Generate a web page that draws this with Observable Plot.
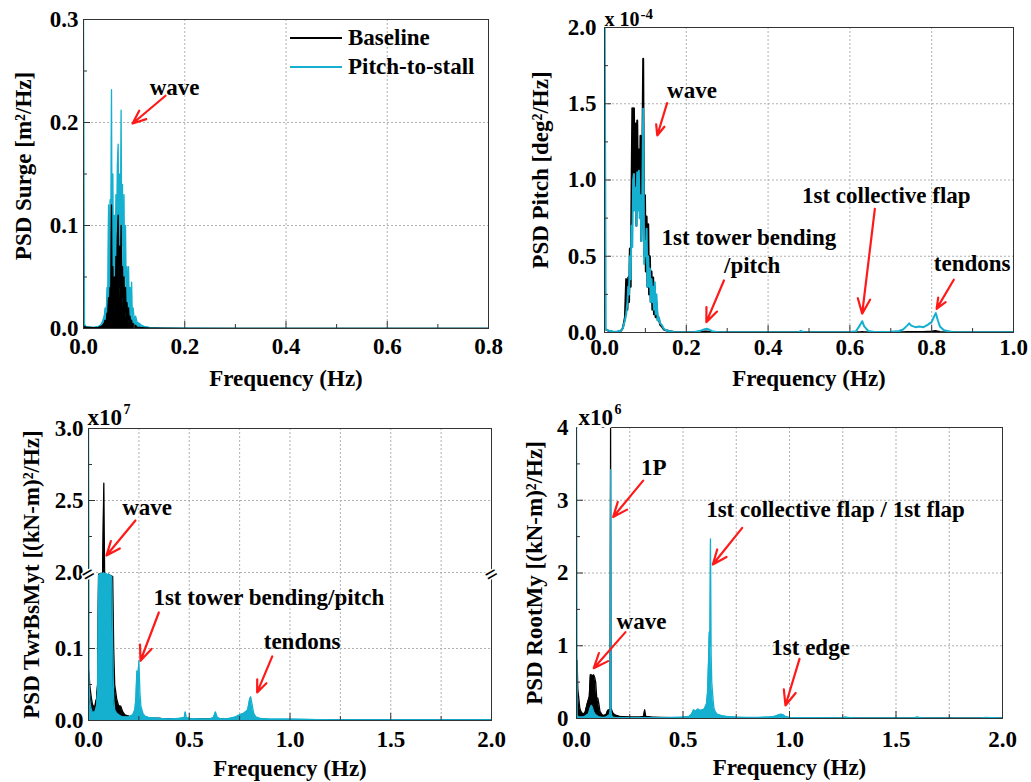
<!DOCTYPE html>
<html><head><meta charset="utf-8">
<script src="https://cdn.jsdelivr.net/npm/d3@7"></script>
<script src="https://cdn.jsdelivr.net/npm/@observablehq/plot@0.6"></script>
<style>
body{margin:0;background:#fff;}
#root{position:relative;width:1031px;height:782px;overflow:hidden;font-family:'Liberation Serif','Times New Roman',Times,serif;font-weight:bold;}
.panel{position:absolute;}
.panel svg{overflow:visible;}
.leg{position:absolute;font-size:23px;line-height:23px;white-space:nowrap;}
.legline{position:absolute;height:0;width:52px;}
</style></head>
<body><div id="root"></div>
<script>
const CYAN = "#15B0D0";
const FONT = "'Liberation Serif','Times New Roman',Times,serif";

// ---------------- Panel 1: Surge ----------------
const surgeFreq = [0,0.002,0.005,0.01,0.02,0.03,0.035,0.038,0.041,0.043,
  0.045,0.0465,0.048,0.0495,0.051,0.0525,0.054,0.0553,0.0565,0.058,
  0.0595,0.061,0.0625,0.064,0.0655,0.067,0.0685,0.07,0.0715,0.073,
  0.0743,0.0755,0.077,0.0785,0.08,0.0815,0.083,0.0845,0.086,0.0875,
  0.089,0.0905,0.092,0.0935,0.095,0.0965,0.098,0.1,0.103,0.106,
  0.11,0.115,0.12,0.13,0.15,0.2,0.3,0.4,0.5,0.6,
  0.7,0.8];
const surgeBaseline = [0.002,0.002,0.001,0.001,0.0008,0.001,0.002,0.003,0.005,0.008,
  0.006,0.015,0.01,0.03,0.012,0.04,0.02,0.12,0.03,0.06,
  0.02,0.05,0.015,0.07,0.03,0.09,0.11,0.04,0.08,0.03,
  0.1,0.03,0.06,0.02,0.05,0.015,0.04,0.01,0.025,0.008,
  0.02,0.005,0.012,0.004,0.008,0.003,0.005,0.002,0.003,0.001,
  0.001,0.0008,0.0005,0.0003,0.0002,0.0001,0.0001,0.0001,0.0001,0.0001,
  0.0001,0.0001];
const surgePitchToStall = [0.3,0.004,0.002,0.0015,0.001,0.002,0.004,0.007,0.012,0.02,
  0.015,0.04,0.025,0.12,0.05,0.125,0.06,0.232,0.07,0.15,
  0.05,0.11,0.04,0.13,0.06,0.16,0.179,0.07,0.15,0.09,
  0.212,0.08,0.14,0.06,0.13,0.05,0.1,0.03,0.06,0.025,
  0.06,0.02,0.04,0.015,0.045,0.012,0.02,0.01,0.012,0.006,
  0.005,0.003,0.002,0.001,0.0005,0.0003,0.0002,0.0002,0.0002,0.0002,
  0.0002,0.0002];

// ---------------- Panel 2: Pitch (x1e-4) ----------------
const pitchFreq = [0,0.003,0.01,0.02,0.03,0.04,0.045,0.05,0.053,0.056,
  0.058,0.06,0.062,0.064,0.066,0.068,0.07,0.072,0.074,0.076,
  0.078,0.08,0.082,0.084,0.086,0.088,0.09,0.092,0.0946,0.097,
  0.099,0.101,0.103,0.105,0.107,0.109,0.111,0.113,0.115,0.117,
  0.119,0.121,0.123,0.125,0.127,0.13,0.133,0.136,0.14,0.145,
  0.15,0.16,0.17,0.19,0.22,0.235,0.245,0.25,0.255,0.265,
  0.28,0.35,0.45,0.475,0.48,0.485,0.55,0.6,0.615,0.625,
  0.63,0.635,0.645,0.66,0.7,0.72,0.73,0.74,0.745,0.75,
  0.76,0.77,0.78,0.79,0.8,0.805,0.81,0.815,0.82,0.83,
  0.85,0.9,1.0];
const pitchBaseline = [0.03,0.02,0.01,0.005,0.004,0.01,0.03,0.1,0.35,0.15,
  0.36,0.2,0.55,0.3,0.9,1.47,0.8,1.47,0.9,1.37,
  0.7,1.39,0.9,1.2,0.8,1.29,0.6,1.0,1.795,0.5,
  0.9,0.4,0.76,0.3,0.71,0.25,0.5,0.2,0.4,0.15,
  0.36,0.12,0.3,0.1,0.2,0.08,0.09,0.05,0.04,0.02,
  0.015,0.008,0.004,0.002,0.002,0.004,0.006,0.006,0.005,0.003,
  0.001,0.001,0.001,0.001,0.001,0.001,0.001,0.001,0.001,0.002,
  0.003,0.002,0.001,0.001,0.001,0.002,0.002,0.003,0.003,0.003,
  0.003,0.003,0.004,0.005,0.006,0.008,0.01,0.006,0.004,0.002,
  0.001,0.001,0.001];
const pitchPitchToStall = [2.5,0.02,0.012,0.006,0.005,0.012,0.03,0.08,0.12,0.2,
  0.3,0.25,0.5,0.35,0.7,0.56,1.0,1.04,0.8,0.95,
  0.7,1.05,0.8,1.06,0.75,0.9,0.6,0.8,1.467,0.45,
  0.6,0.5,0.68,0.3,0.5,0.3,0.42,0.2,0.35,0.2,
  0.3,0.15,0.33,0.12,0.25,0.08,0.1,0.06,0.05,0.025,
  0.015,0.008,0.004,0.002,0.004,0.012,0.022,0.025,0.02,0.006,
  0.002,0.001,0.002,0.003,0.01,0.003,0.002,0.003,0.008,0.05,
  0.074,0.04,0.01,0.004,0.005,0.01,0.02,0.045,0.06,0.045,
  0.035,0.04,0.035,0.05,0.07,0.1,0.127,0.08,0.04,0.015,
  0.004,0.002,0.001];

// ---------------- Panel 3: TwrBsMyt (x1e7) ----------------
const twrFreq = [0,0.003,0.006,0.01,0.015,0.02,0.025,0.03,0.035,0.04,
  0.045,0.05,0.055,0.06,0.065,0.07,0.076,0.08,0.085,0.09,
  0.095,0.1,0.105,0.11,0.115,0.12,0.125,0.13,0.14,0.15,
  0.16,0.17,0.18,0.2,0.22,0.23,0.235,0.24,0.245,0.25,
  0.255,0.26,0.27,0.28,0.3,0.35,0.4,0.45,0.475,0.48,
  0.485,0.5,0.55,0.6,0.62,0.63,0.64,0.66,0.7,0.73,
  0.75,0.77,0.78,0.79,0.8,0.805,0.81,0.82,0.83,0.85,
  0.9,1.0,1.2,1.5,1.8,2.0];
const twrBaseline = [0.07,0.065,0.05,0.04,0.03,0.022,0.02,0.015,0.025,0.03,
  0.05,1.0,1.5,1.2,0.9,1.4,2.62,1.2,0.02,1.0,
  0.8,1.2,0.9,0.6,0.3,0.2,0.1,0.05,0.03,0.02,
  0.02,0.012,0.008,0.006,0.005,0.006,0.007,0.008,0.008,0.008,
  0.007,0.006,0.005,0.004,0.003,0.003,0.002,0.002,0.002,0.003,
  0.002,0.002,0.002,0.002,0.002,0.003,0.002,0.002,0.002,0.002,
  0.003,0.003,0.003,0.004,0.005,0.005,0.004,0.003,0.002,0.002,
  0.001,0.001,0.001,0.001,0.001,0.001];
const twrPitchToStall = [3.2,0.05,0.03,0.02,0.015,0.01,0.012,0.01,0.015,0.02,
  0.04,0.5,1.2,1.5,1.3,1.6,1.8,1.5,1.2,1.4,
  1.0,1.2,0.8,0.5,0.3,0.1,0.03,0.015,0.01,0.008,
  0.006,0.005,0.005,0.005,0.008,0.015,0.03,0.069,0.06,0.083,
  0.04,0.02,0.01,0.006,0.004,0.003,0.002,0.003,0.004,0.012,
  0.004,0.003,0.002,0.002,0.004,0.012,0.004,0.002,0.003,0.005,
  0.008,0.01,0.012,0.015,0.03,0.033,0.025,0.01,0.005,0.003,
  0.002,0.002,0.001,0.001,0.001,0.001];

// ---------------- Panel 4: RootMy (x1e6) ----------------
const rootFreq = [0,0.003,0.006,0.01,0.015,0.02,0.03,0.04,0.05,0.055,
  0.06,0.065,0.07,0.075,0.08,0.085,0.09,0.095,0.1,0.105,
  0.11,0.12,0.13,0.14,0.145,0.15,0.155,0.158,0.16,0.162,
  0.165,0.17,0.18,0.2,0.25,0.3,0.315,0.32,0.325,0.35,
  0.4,0.45,0.5,0.53,0.54,0.55,0.56,0.57,0.58,0.59,
  0.6,0.61,0.615,0.62,0.623,0.626,0.629,0.632,0.635,0.64,
  0.645,0.65,0.66,0.68,0.7,0.75,0.8,0.85,0.9,0.93,
  0.95,0.96,0.97,0.98,1.0,1.05,1.1,1.2,1.25,1.26,
  1.3,1.4,1.5,1.58,1.6,1.62,1.7,1.8,1.9,1.92,
  2.0];
const rootBaseline = [0.8,0.8,0.4,0.3,0.15,0.1,0.06,0.08,0.2,0.25,
  0.3,0.6,0.6,0.58,0.6,0.57,0.5,0.28,0.28,0.2,
  0.1,0.05,0.04,0.06,0.1,0.12,0.1,0.15,4.0,0.15,
  0.12,0.08,0.05,0.03,0.02,0.02,0.03,0.12,0.03,0.02,
  0.015,0.01,0.01,0.01,0.01,0.01,0.01,0.01,0.01,0.01,
  0.01,0.01,0.01,0.01,0.01,0.01,0.01,0.01,0.01,0.01,
  0.01,0.01,0.01,0.01,0.01,0.01,0.01,0.01,0.01,0.01,
  0.01,0.01,0.01,0.01,0.01,0.005,0.005,0.005,0.005,0.005,
  0.005,0.005,0.005,0.005,0.005,0.005,0.005,0.005,0.005,0.005,
  0.005];
const rootPitchToStall = [4.2,0.05,0.03,0.02,0.02,0.02,0.02,0.03,0.05,0.06,
  0.1,0.15,0.18,0.15,0.1,0.07,0.05,0.04,0.03,0.02,
  0.02,0.015,0.015,0.02,0.03,0.04,0.05,0.1,3.42,0.1,
  0.04,0.02,0.015,0.01,0.01,0.01,0.01,0.01,0.01,0.01,
  0.01,0.015,0.02,0.03,0.06,0.12,0.1,0.13,0.11,0.12,
  0.13,0.2,0.35,0.8,1.19,1.0,2.47,0.9,0.5,0.3,
  0.15,0.1,0.06,0.04,0.03,0.02,0.015,0.015,0.02,0.03,
  0.05,0.06,0.05,0.03,0.015,0.01,0.01,0.008,0.008,0.02,
  0.008,0.006,0.006,0.008,0.02,0.008,0.005,0.005,0.005,0.015,
  0.005];

// ---------------- ticks ----------------
const p1XTicks = [0, 0.2, 0.4, 0.6, 0.8], p1XMinor = [0.1, 0.3, 0.5, 0.7], p1XGrid = [0.2, 0.4, 0.6];
const p1YTicks = [0, 0.1, 0.2, 0.3], p1YMinor = [0.05, 0.15, 0.25], p1YGrid = [0.1, 0.2];
const p2XTicks = [0, 0.2, 0.4, 0.6, 0.8, 1.0], p2XMinor = [0.1, 0.3, 0.5, 0.7, 0.9], p2XGrid = [0.2, 0.4, 0.6, 0.8];
const p2YTicks = [0, 0.5, 1.0, 1.5, 2.0], p2YMinor = [0.25, 0.75, 1.25, 1.75], p2YGrid = [0.5, 1.0, 1.5];
const p3XTicks = [0, 0.5, 1.0, 1.5, 2.0], p3XMinor = [0.25, 0.75, 1.25, 1.75], p3XGrid = [0.25, 0.5, 0.75, 1.0, 1.25, 1.5, 1.75];
const p3YTicks = [0, 0.1, 2.0, 2.5, 3.0], p3YMinor = [0.05, 0.15, 2.25, 2.75], p3YGrid = [0.1, 2.0, 2.5];
const p4XTicks = [0, 0.5, 1.0, 1.5, 2.0], p4XMinor = [0.25, 0.75, 1.25, 1.75], p4XGrid = [0.25, 0.5, 0.75, 1.0, 1.25, 1.5, 1.75];
const p4YTicks = [0, 1, 2, 3, 4], p4YMinor = [0.5, 1.5, 2.5, 3.5], p4YGrid = [1, 2, 3];

// ---------------- annotations ----------------
const p1Labels = [{label: "wave", f: 0.180, v: 0.234}];
const p1Arrows = [{f1: 0.162, v1: 0.226, f2: 0.097, v2: 0.199}];
const p2Labels = [
  {label: "wave", f: 0.214, v: 1.587},
  {label: "1st tower bending", f: 0.353, v: 0.625},
  {label: "/pitch", f: 0.361, v: 0.439},
  {label: "1st collective flap", f: 0.689, v: 0.898},
  {label: "tendons", f: 0.899, v: 0.45}];
const p2Arrows = [
  {f1: 0.153, v1: 1.504, f2: 0.129, v2: 1.292},
  {f1: 0.292, v1: 0.341, f2: 0.249, v2: 0.068},
  {f1: 0.661, v1: 0.811, f2: 0.630, v2: 0.123},
  {f1: 0.854, v1: 0.346, f2: 0.812, v2: 0.155}];
const p3Labels = [
  {label: "wave", f: 0.291, v: 2.449},
  {label: "1st tower bending/pitch", f: 0.895, v: 0.171},
  {label: "tendons", f: 1.06, v: 0.109}];
const p3Arrows = [
  {f1: 0.233, v1: 2.361, f2: 0.089, v2: 2.118},
  {f1: 0.349, v1: 0.150, f2: 0.258, v2: 0.083},
  {f1: 0.912, v1: 0.089, f2: 0.837, v2: 0.039}];
const p4Labels = [
  {label: "1P", f: 0.363, v: 3.454},
  {label: "1st collective flap / 1st flap", f: 1.216, v: 2.87},
  {label: "wave", f: 0.305, v: 1.333},
  {label: "1st edge", f: 1.099, v: 0.98}];
const p4Arrows = [
  {f1: 0.313, v1: 3.27, f2: 0.172, v2: 2.77},
  {f1: 0.778, v1: 2.62, f2: 0.640, v2: 2.117},
  {f1: 0.230, v1: 1.187, f2: 0.081, v2: 0.692},
  {f1: 1.047, v1: 0.82, f2: 0.981, v2: 0.179}];

const seriesNames = ["Baseline", "Pitch-to-stall"];
const breakAt = [0, 2];

// ---------------- helpers ----------------
function rows(freq, a, b) { return freq.map((f, i) => ({f, baseline: a[i], pts: b[i]})); }

function annotate(labels, arrows) {
  return [
    Plot.arrow(arrows, {x1: "f1", y1: "v1", x2: "f2", y2: "v2", stroke: "#ff1a1a", strokeWidth: 2.2, headLength: 11, headAngle: 45}),
    Plot.text(labels, {x: "f", y: "v", text: "label", fontSize: 23, fill: "black", lineAnchor: "middle"})
  ];
}

function panel(o) {
  const g = {stroke: "#a8a8a8", strokeOpacity: 1, strokeWidth: 0.9, strokeDasharray: "2,2"};
  const marks = [
    Plot.gridX(o.xGrid, g),
    Plot.gridY(o.yGrid, g),
    ...o.data,
    Plot.frame({stroke: "#333", strokeWidth: 1}),
    Plot.axisX(o.xMinor, {tickSize: -4, fill: "none", label: null, stroke: "#333"}),
    Plot.axisX(o.xTicks, {tickSize: -7, fill: "none", label: null, stroke: "#333"}),
    Plot.axisX(o.xTicks, {tickSize: 0, tickPadding: o.xPad, tickFormat: o.xFmt, label: null, fontSize: 23, fill: "black"}),
    Plot.axisY(o.yMinor, {tickSize: -4, fill: "none", label: null, stroke: "#333"}),
    Plot.axisY(o.yTicks, {tickSize: -7, fill: "none", label: null, stroke: "#333"}),
    Plot.axisY(o.yTicks, {tickSize: 0, tickPadding: o.yPad, tickFormat: o.yFmt, label: null, fontSize: 23, fill: "black"}),
    Plot.text([o.xTitle], {frameAnchor: "bottom", dy: o.xTitleDy, text: d => d, fontSize: 23, textAnchor: "middle", lineAnchor: "middle"}),
    Plot.text([o.yTitle], {frameAnchor: "left", dx: o.yTitleDx, dy: o.yTitleDy, rotate: -90, text: d => d, fontSize: 23, textAnchor: "middle", lineAnchor: "middle"}),
    ...(o.extra || [])
  ];
  const svg = Plot.plot({
    width: o.width, height: o.height,
    marginLeft: o.ml, marginRight: o.mr, marginTop: o.mt, marginBottom: o.mb,
    style: {fontFamily: FONT, fontWeight: "bold", fontSize: "23px", background: "transparent", overflow: "visible", color: "black"},
    x: {domain: o.xDomain},
    y: o.y,
    marks
  });
  const div = document.createElement("div");
  div.className = "panel";
  div.style.left = o.left + "px";
  div.style.top = o.top + "px";
  div.style.width = o.width + "px";
  div.style.height = o.height + "px";
  div.append(svg);
  document.getElementById("root").append(div);
}

function spectrum(data, key, color, filled, opts = {}) {
  const out = [];
  if (filled) out.push(Plot.areaY(data, {x: "f", y: key, fill: color, clip: true, ...opts}));
  out.push(Plot.line(data, {x: "f", y: key, stroke: color, strokeWidth: 1.3, clip: true, ...opts}));
  return out;
}

const fmt1 = d3.format(".1f");

// Panel 1
const d1 = rows(surgeFreq, surgeBaseline, surgePitchToStall);
panel({
  left: 0, top: 0, width: 515, height: 390, ml: 83, mr: 27, mt: 19, mb: 62,
  xDomain: [0, 0.8], y: {domain: [0, 0.3]},
  xTicks: p1XTicks, xMinor: p1XMinor, xGrid: p1XGrid,
  yTicks: p1YTicks, yMinor: p1YMinor, yGrid: p1YGrid,
  xFmt: fmt1, yFmt: fmt1, xPad: 9, yPad: 5,
  xTitle: "Frequency (Hz)", xTitleDy: 50,
  yTitle: "PSD Surge [m²/Hz]", yTitleDx: -60, yTitleDy: -8,
  data: [...spectrum(d1, "pts", CYAN, true), ...spectrum(d1, "baseline", "black", true)],
  extra: annotate(p1Labels, p1Arrows)
});

// Panel 2
const d2 = rows(pitchFreq, pitchBaseline, pitchPitchToStall);
panel({
  left: 515, top: 0, width: 516, height: 390, ml: 89, mr: 18, mt: 27, mb: 58,
  xDomain: [0, 1], y: {domain: [0, 2]},
  xTicks: p2XTicks, xMinor: p2XMinor, xGrid: p2XGrid,
  yTicks: p2YTicks, yMinor: p2YMinor, yGrid: p2YGrid,
  xFmt: fmt1, yFmt: fmt1, xPad: 6, yPad: 8,
  xTitle: "Frequency (Hz)", xTitleDy: 46,
  yTitle: "PSD Pitch [deg²/Hz]", yTitleDx: -64, yTitleDy: -10,
  data: [...spectrum(d2, "baseline", "black", false, {strokeWidth: 2}), ...spectrum(d2, "pts", CYAN, false, {strokeWidth: 2})],
  extra: [
    Plot.text(["x 10"], {frameAnchor: "top-left", text: d => d, textAnchor: "start", lineAnchor: "bottom", dx: 0, dy: -2, fontSize: 20}),
    Plot.text(["-4"], {frameAnchor: "top-left", text: d => d, textAnchor: "start", lineAnchor: "bottom", dx: 36, dy: -9, fontSize: 15}),
    ...annotate(p2Labels, p2Arrows)
  ]
});

// Panel 3 (broken axis: piecewise linear y scale)
const d3data = rows(twrFreq, twrBaseline, twrPitchToStall);
panel({
  left: 0, top: 390, width: 515, height: 392, ml: 88, mr: 24, mt: 38, mb: 62,
  xDomain: [0, 2], y: {type: "linear", domain: [0, 0.2, 2, 3], range: [330, 186, 182, 38]},
  xTicks: p3XTicks, xMinor: p3XMinor, xGrid: p3XGrid,
  yTicks: p3YTicks, yMinor: p3YMinor, yGrid: p3YGrid,
  xFmt: fmt1, yFmt: fmt1, xPad: 10, yPad: 5,
  xTitle: "Frequency (Hz)", xTitleDy: 48,
  yTitle: "PSD TwrBsMyt [(kN-m)²/Hz]", yTitleDx: -57, yTitleDy: 0,
  data: [...spectrum(d3data, "baseline", "black", true), ...spectrum(d3data, "pts", CYAN, true)],
  extra: [
    Plot.text(breakAt, {x: d => d, y: 1.1, text: () => "=", fontSize: 22, rotate: -30, stroke: "white", strokeWidth: 3, fill: "black", lineAnchor: "middle"}),
    Plot.text(["x10"], {frameAnchor: "top-left", text: d => d, textAnchor: "start", lineAnchor: "bottom", dx: -1, dy: -4, fontSize: 23, stroke: "white", strokeWidth: 6, fill: "black"}),
    Plot.text(["7"], {frameAnchor: "top-left", text: d => d, textAnchor: "start", lineAnchor: "bottom", dx: 35, dy: -15, fontSize: 14}),
    ...annotate(p3Labels, p3Arrows)
  ]
});

// Panel 4
const d4 = rows(rootFreq, rootBaseline, rootPitchToStall);
panel({
  left: 515, top: 390, width: 516, height: 392, ml: 61, mr: 29, mt: 37, mb: 64,
  xDomain: [0, 2], y: {domain: [0, 4]},
  xTicks: p4XTicks, xMinor: p4XMinor, xGrid: p4XGrid,
  yTicks: p4YTicks, yMinor: p4YMinor, yGrid: p4YGrid,
  xFmt: fmt1, yFmt: d3.format("d"), xPad: 12, yPad: 8,
  xTitle: "Frequency (Hz)", xTitleDy: 49,
  yTitle: "PSD RootMy [(kN-m)²/Hz]", yTitleDx: -42, yTitleDy: 0,
  data: [...spectrum(d4, "baseline", "black", true), ...spectrum(d4, "pts", CYAN, true)],
  extra: [
    Plot.text(["x10"], {frameAnchor: "top-left", text: d => d, textAnchor: "start", lineAnchor: "bottom", dx: 2, dy: -3, fontSize: 23, stroke: "white", strokeWidth: 6, fill: "black"}),
    Plot.text(["6"], {frameAnchor: "top-left", text: d => d, textAnchor: "start", lineAnchor: "bottom", dx: 38, dy: -14, fontSize: 14}),
    ...annotate(p4Labels, p4Arrows)
  ]
});

// Legend (panel 1)
const root = document.getElementById("root");
const legColors = ["black", CYAN];
seriesNames.forEach((name, i) => {
  const y = 38 + i * 29;
  const line = document.createElement("div");
  line.className = "legline";
  line.style.left = "290px";
  line.style.top = (y - 1) + "px";
  line.style.borderTop = "2px solid " + legColors[i];
  root.append(line);
  const t = document.createElement("div");
  t.className = "leg";
  t.style.left = "348px";
  t.style.top = (y - 12) + "px";
  t.textContent = name;
  root.append(t);
});
</script>
</body></html>
